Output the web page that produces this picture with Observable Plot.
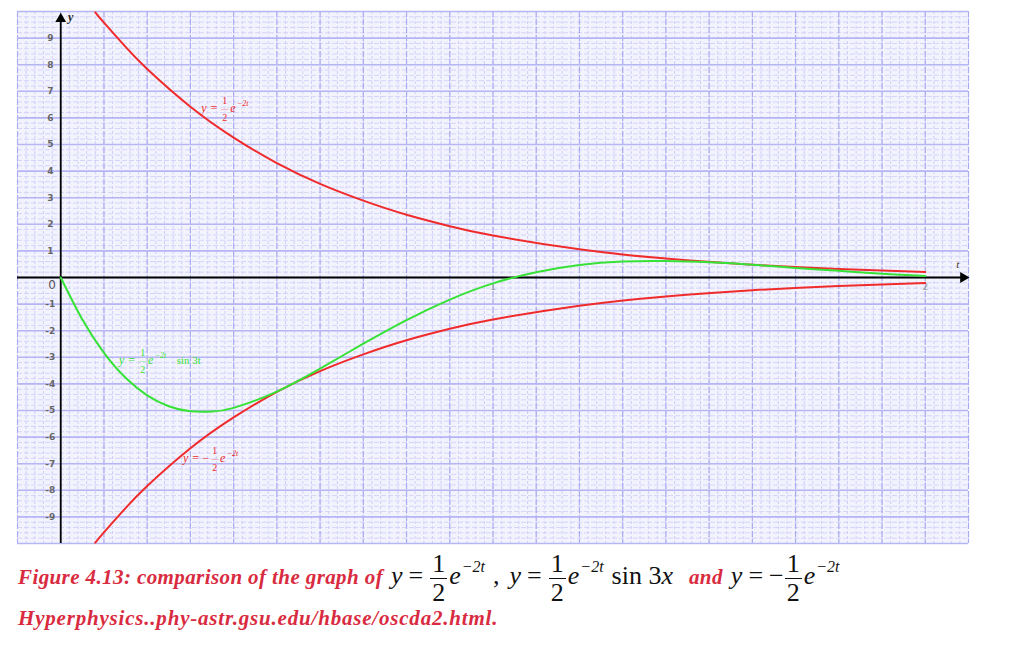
<!DOCTYPE html>
<html>
<head>
<meta charset="utf-8">
<script src="https://cdn.jsdelivr.net/npm/d3@7"></script>
<script src="https://cdn.jsdelivr.net/npm/@observablehq/plot@0.6"></script>
<style>
  body { margin: 0; background: #fff; }
  #chart { position: absolute; left: 0; top: 0; }
  .cap { position: absolute; left: 18px; white-space: nowrap; }
  .red { color: #d92b3f; font-family: "Liberation Serif", serif; font-weight: bold; font-style: italic; font-size: 21px; }
  #line1 .red { letter-spacing: 0.4px; }
  #line2 .red { letter-spacing: 0.8px; }
  .math { font-family: "Liberation Serif", serif; font-size: 26px; color: #111; }
  .mi { font-style: italic; }
  .op { margin: 0 6px; }
  .frac { display: inline-flex; flex-direction: column; align-items: center; vertical-align: middle; line-height: 1; margin: 0 2px 0 1px; }
  .frac .num { border-bottom: 1.3px solid #111; padding: 0 2px 1px 2px; }
  .frac .den { padding-top: 1px; }
  sup { font-size: 16px; font-style: italic; vertical-align: 0; position: relative; top: -12px; margin-left: 1px; }
  .gap { margin-left: 8px; }
  #line1 { top: 544px; height: 64px; line-height: 64px; }
  #line2 { top: 606px; line-height: 24px; }
</style>
</head>
<body>
<div id="chart"></div>
<div id="line1" class="cap"><span class="red">Figure 4.13: comparison of the graph of</span><span class="math"><span class="mi gap">y</span><span class="op">=</span><span class="frac"><span class="num">1</span><span class="den">2</span></span><span class="mi">e</span><sup>−2<i>t</i></sup><span class="gap">,</span><span class="mi gap" style="margin-left:10px">y</span><span class="op">=</span><span class="frac"><span class="num">1</span><span class="den">2</span></span><span class="mi">e</span><sup>−2<i>t</i></sup><span class="gap">sin 3</span><span class="mi">x</span></span><span class="red" style="margin:0 8px 0 16px">and</span><span class="math"><span class="mi">y</span><span class="op">=</span>−<span class="frac"><span class="num">1</span><span class="den">2</span></span><span class="mi">e</span><sup>−2<i>t</i></sup></span></div>
<div id="line2" class="cap"><span class="red">Hyperphysics..phy-astr.gsu.edu/hbase/oscda2.html.</span></div>
<script>
// ---- data ----
const tRed = [0.08, 0.1, 0.15, 0.2, 0.3, 0.4, 0.5, 0.6, 0.7, 0.8, 0.9, 1.0, 1.2, 1.4, 1.6, 1.8, 2.0];
const yRedTop = [9.97, 9.58, 8.67, 7.84, 6.42, 5.26, 4.30, 3.52, 2.89, 2.36, 1.93, 1.58, 1.06, 0.71, 0.48, 0.32, 0.21];
const yRedBottom = [-9.97, -9.58, -8.67, -7.84, -6.42, -5.26, -4.30, -3.52, -2.89, -2.36, -1.93, -1.58, -1.06, -0.71, -0.48, -0.32, -0.21];
const tGreen = [0, 0.05, 0.1, 0.15, 0.2, 0.25, 0.3, 0.35, 0.4, 0.5, 0.6, 0.7, 0.8, 0.9, 1.0, 1.1, 1.2, 1.3, 1.4, 1.5, 1.6, 1.7, 1.8, 1.9, 2.0];
const yGreen = [0, -1.58, -2.83, -3.77, -4.43, -4.84, -5.03, -5.04, -4.90, -4.29, -3.43, -2.49, -1.60, -0.83, -0.22, 0.20, 0.47, 0.60, 0.62, 0.57, 0.48, 0.36, 0.25, 0.14, 0.06];
const yTickLabels = [9, 8, 7, 6, 5, 4, 3, 2, 1, -1, -2, -3, -4, -5, -6, -7, -8, -9];
const xTickLabels = [{t: 1, label: "1"}, {t: 2, label: "2"}];
// curve label anchors (position of the leading "y")
const labelTop = {t: 0.331, y: 6.35};
const labelGreen = {t: 0.141, y: -3.12};
const labelBottom = {t: 0.289, y: -6.80};

// grid
const minorX = d3.range(-0.1, 2.1001, 0.02);
const majorX = d3.range(-0.1, 2.1001, 0.1);
const minorY = d3.range(-10, 10.001, 0.2);
const majorY = d3.range(-10, 10.001, 1);

const RED = "#ef2b2b", GREEN = "#36e236";

function eqLabel(anchor, color, minus, suffix) {
  const at = [anchor];
  const base = {x: "t", y: "y", fill: color, fontFamily: "Liberation Serif, serif"};
  const off = minus ? 8 : 0;
  const m = [
    Plot.text(at, {...base, text: () => "y", fontStyle: "italic", fontSize: 12, dx: 0}),
    Plot.text(at, {...base, text: () => "=", fontSize: 12, dx: 10}),
    Plot.text(at, {...base, text: () => "1", fontSize: 10, dx: 21 + off, dy: -8}),
    Plot.text(at, {...base, text: () => "2", fontSize: 10, dx: 21 + off, dy: 9}),
    Plot.text(at, {...base, text: () => "—", fontSize: 7, dx: 21 + off, dy: 0}),
    Plot.text(at, {...base, text: () => "e", fontStyle: "italic", fontSize: 12, dx: 29 + off}),
    Plot.text(at, {...base, text: () => "−2t", fontStyle: "italic", fontSize: 8, textAnchor: "start", dx: 33 + off, dy: -5})
  ];
  if (minus) m.push(Plot.text(at, {...base, text: () => "−", fontSize: 12, dx: 20}));
  if (suffix) m.push(Plot.text(at, {...base, text: () => suffix, fontSize: 11, textAnchor: "start", dx: 55}));
  return m;
}

const chart = Plot.plot({
  width: 1025,
  height: 548,
  marginLeft: 17,
  marginRight: 57,
  marginTop: 11,
  marginBottom: 5,
  x: {domain: [-0.1, 2.1], axis: null},
  y: {domain: [-10, 10], axis: null},
  marks: [
    Plot.frame({fill: "#f3f3fe", stroke: null}),
    Plot.ruleX(minorX, {stroke: "#cfcff8", strokeWidth: 1, strokeDasharray: "3,2"}),
    Plot.ruleY(minorY, {stroke: "#d4d4f9", strokeWidth: 1, strokeDasharray: "5,2"}),
    Plot.ruleX(majorX, {stroke: "#ababef", strokeWidth: 1.2, strokeDasharray: "6,2"}),
    Plot.ruleY(majorY, {stroke: "#b6b6f4", strokeWidth: 1.6}),
    // axes
    Plot.ruleY([0], {x1: -0.1, x2: 2.085, stroke: "#000", strokeWidth: 1.8}),
    Plot.ruleX([0], {y1: -10, y2: 9.7, stroke: "#000", strokeWidth: 1.8}),
    Plot.dot([{t: 2.088, y: 0}], {x: "t", y: "y", symbol: "triangle", r: 4, rotate: 90, fill: "#000", stroke: null}),
    Plot.dot([{t: 0, y: 9.72}], {x: "t", y: "y", symbol: "triangle", r: 4, fill: "#000", stroke: null}),
    Plot.text(yTickLabels, {x: -0.024, y: d => d, text: d => String(d), fontSize: 9, fontWeight: "bold", fill: "#666", fontFamily: "DejaVu Sans, sans-serif"}),
    Plot.text([0], {x: -0.02, y: d => d, text: d => String(d), fontSize: 12, fill: "#555", dy: 8, fontFamily: "DejaVu Sans, sans-serif"}),
    Plot.text(xTickLabels, {x: "t", y: 0, text: "label", fontSize: 9, fill: "#999", dy: 10, fontFamily: "DejaVu Sans, sans-serif"}),
    Plot.text([{t: 0.023, y: 9.8}], {x: "t", y: "y", text: () => "y", fontStyle: "italic", fontWeight: "bold", fontSize: 12, fill: "#222", fontFamily: "Liberation Serif, serif"}),
    Plot.text([{t: 2.075, y: 0.5}], {x: "t", y: "y", text: () => "t", fontStyle: "italic", fontSize: 11, fill: "#4a3a20", fontFamily: "Liberation Serif, serif"}),
    // curves
    Plot.line(tRed, {x: d => d, y: (d, i) => yRedTop[i], stroke: RED, strokeWidth: 2, curve: "natural"}),
    Plot.line(tRed, {x: d => d, y: (d, i) => yRedBottom[i], stroke: RED, strokeWidth: 2, curve: "natural"}),
    Plot.line(tGreen, {x: d => d, y: (d, i) => yGreen[i], stroke: GREEN, strokeWidth: 2, curve: "natural"}),
    // curve labels
    ...eqLabel(labelTop, RED, false, null),
    ...eqLabel(labelGreen, GREEN, false, "sin 3t"),
    ...eqLabel(labelBottom, RED, true, null)
  ]
});
document.getElementById("chart").append(chart);
</script>
</body>
</html>
